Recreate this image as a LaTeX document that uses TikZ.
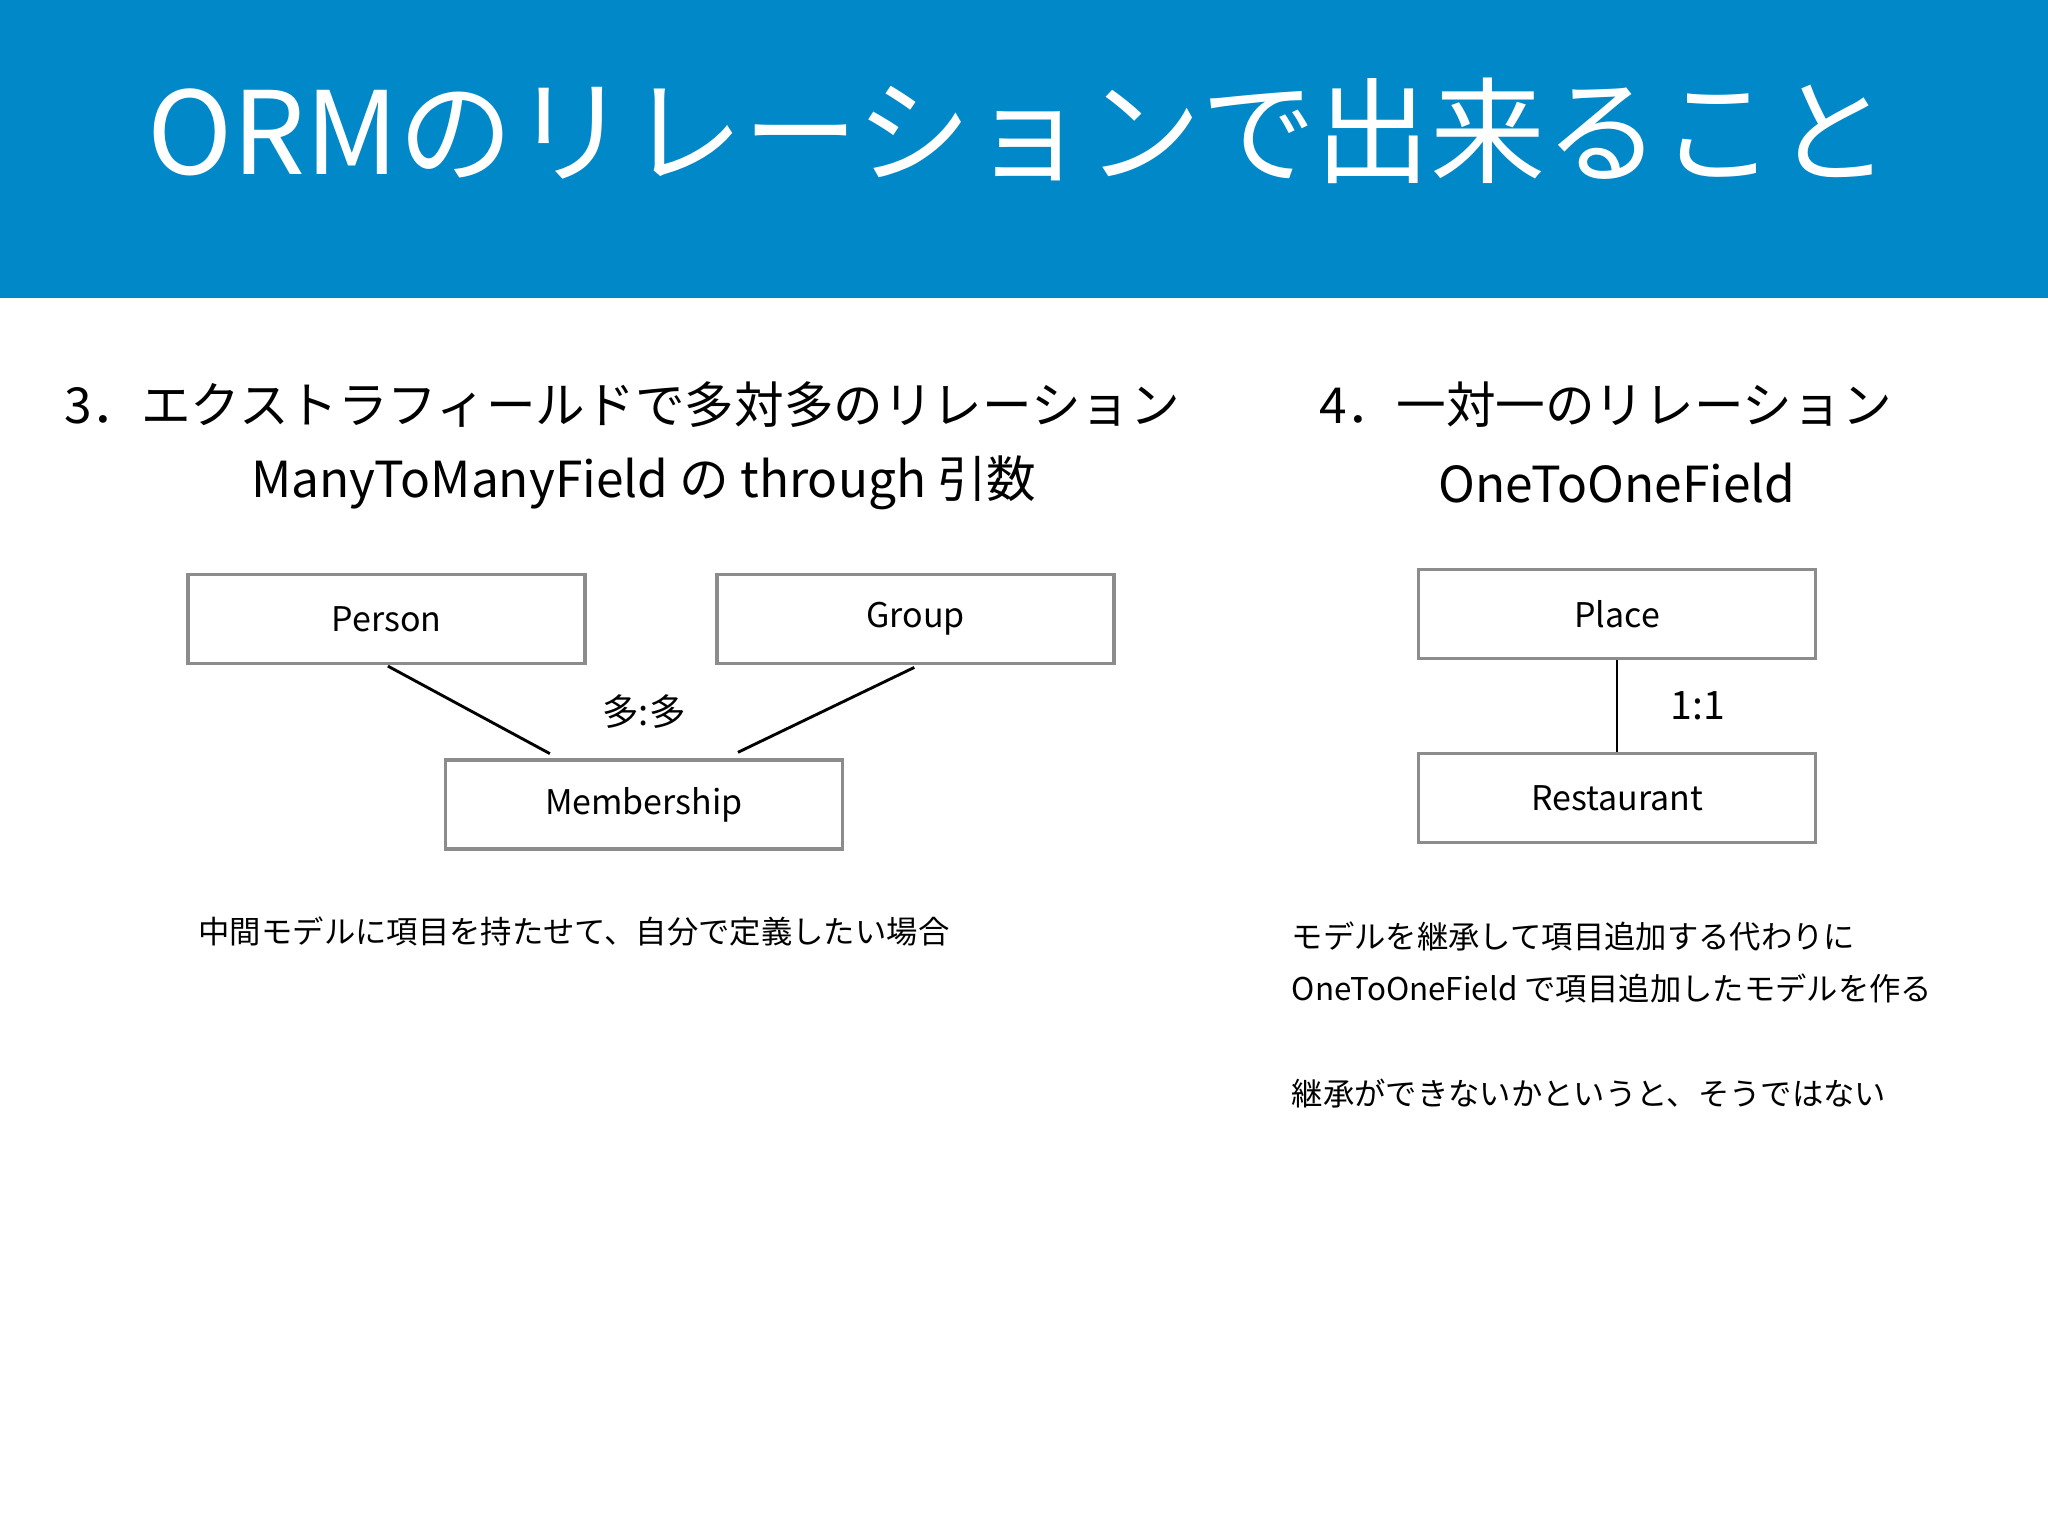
\documentclass[tikz,border=0pt]{standalone}
\usepackage{fontspec}
\setmainfont{Noto Sans CJK JP}
\definecolor{hdr}{HTML}{0088C8}
\tikzset{box/.style={draw=gray!90,line width=1.3pt,minimum width=152pt,minimum height=34pt,inner sep=0pt,font=\fontsize{13}{15}\selectfont},
conn/.style={line width=1.1pt}}
\begin{document}
\begin{tikzpicture}[x=0.5pt,y=-0.5pt]
\useasboundingbox (0,0) rectangle (1568,1176);
\fill[hdr] (0,0) rectangle (1568,228);
\node[white,font=\fontsize{44}{50}\selectfont] (title) at (780,100) {ORMのリレーションで出来ること};
\node[anchor=west,font=\fontsize{19}{22}\selectfont] (h3) at (42,310) {3．エクストラフィールドで多対多のリレーション};
\node[font=\fontsize{19}{22}\selectfont] (h3b) at (493,370) {ManyToManyField の through 引数};
\node[anchor=west,font=\fontsize{19}{22}\selectfont] (h4) at (1003,310) {4．一対一のリレーション};
\node[font=\fontsize{19}{22}\selectfont] (h4b) at (1238,370) {OneToOneField};
\node[box] (person) at (296,474) {Person};
\node[box] (group) at (701,474) {Group};
\node[box] (mem) at (493,616) {Membership};
\draw[conn] (297,510) -- (421,577);
\draw[conn] (700,511) -- (565,576);
\node[font=\fontsize{14}{16}\selectfont] (mm) at (493,545) {多:多};
\node[box] (place) at (1238,470) {Place};
\node[box] (rest) at (1238,611) {Restaurant};
\draw[conn] (place.south) -- (rest.north);
\node[font=\fontsize{15}{17}\selectfont] (oo) at (1300,540) {1:1};
\node[anchor=west,font=\fontsize{12}{14}\selectfont] (n1) at (145,713) {中間モデルに項目を持たせて、自分で定義したい場合};
\node[anchor=west,font=\fontsize{12}{14}\selectfont] (n2) at (982,717) {モデルを継承して項目追加する代わりに};
\node[anchor=west,font=\fontsize{12}{14}\selectfont] (n3) at (982,757) {OneToOneField で項目追加したモデルを作る};
\node[anchor=west,font=\fontsize{12}{14}\selectfont] (n4) at (982,837) {継承ができないかというと、そうではない};
\end{tikzpicture}
\end{document}
